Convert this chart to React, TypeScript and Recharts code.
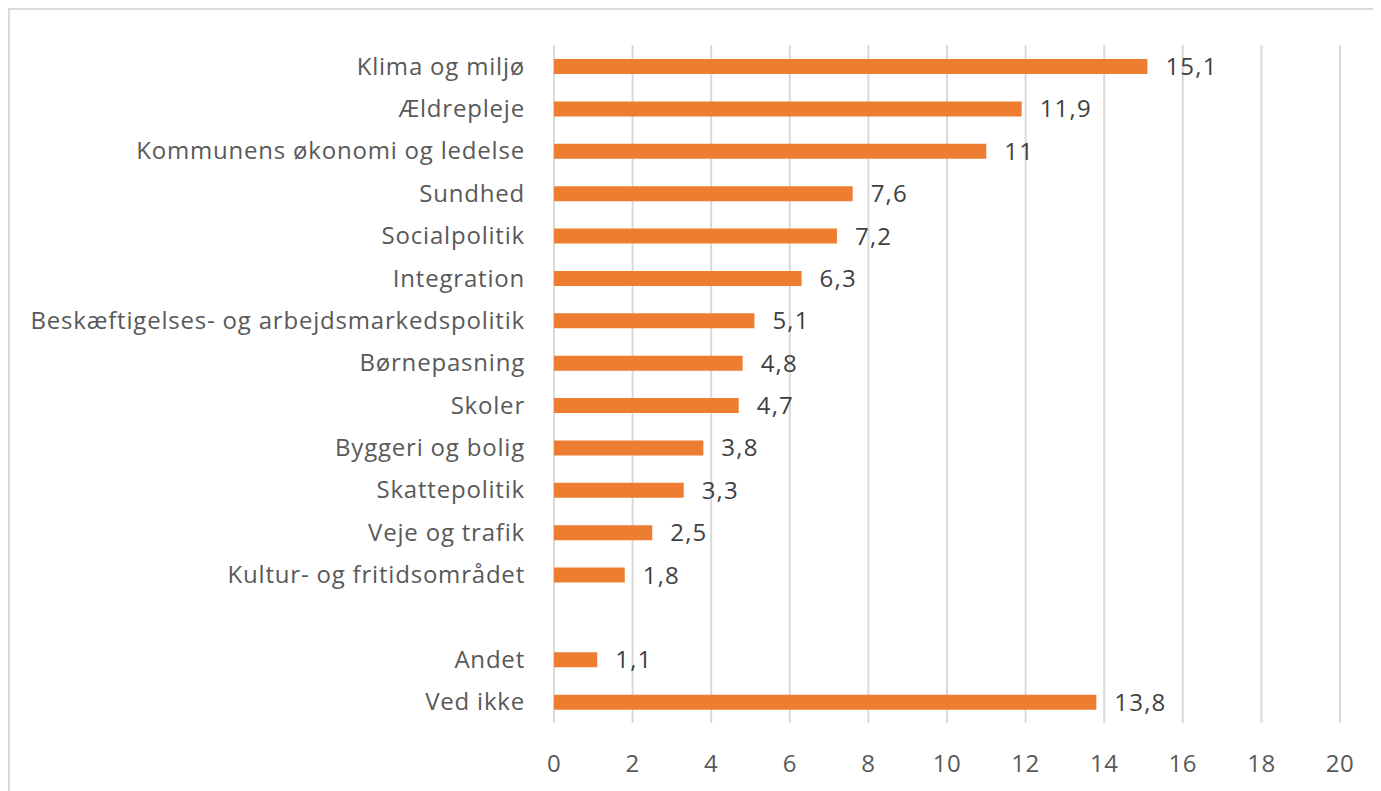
import { BarChart, Bar, XAxis, YAxis, CartesianGrid, LabelList } from 'recharts';

// Andel (%) pr. emne – tom række adskiller "Andet" og "Ved ikke"
const emner = [
  'Klima og miljø',
  'Ældrepleje',
  'Kommunens økonomi og ledelse',
  'Sundhed',
  'Socialpolitik',
  'Integration',
  'Beskæftigelses- og arbejdsmarkedspolitik',
  'Børnepasning',
  'Skoler',
  'Byggeri og bolig',
  'Skattepolitik',
  'Veje og trafik',
  'Kultur- og fritidsområdet',
  '',
  'Andet',
  'Ved ikke',
];
const andele: (number | null)[] = [15.1, 11.9, 11, 7.6, 7.2, 6.3, 5.1, 4.8, 4.7, 3.8, 3.3, 2.5, 1.8, null, 1.1, 13.8];
const xTicks = [0, 2, 4, 6, 8, 10, 12, 14, 16, 18, 20];

const data = emner.map((navn, i) => ({ navn, andel: andele[i] }));

const FONT = '"Open Sans", sans-serif';
const TEKST = '#595959';

const fmt = (v: unknown) => (v == null || v === '' ? '' : String(v).replace('.', ','));

export default function App() {
  return (
    <div style={{ width: 1371, height: 781, borderTop: '2px solid #d9d9d9', borderLeft: '2px solid #d9d9d9', background: '#fff' }}>
      <BarChart
        layout="vertical"
        width={1371}
        height={781}
        data={data}
        margin={{ top: 35, right: 41, bottom: 0, left: 0 }}
        barCategoryGap={0}
      >
        <CartesianGrid horizontal={false} stroke="#d9d9d9" strokeWidth={2} />
        <XAxis
          type="number"
          domain={[0, 20]}
          ticks={xTicks}
          axisLine={false}
          tickLine={false}
          height={68}
          tickMargin={26}
          tick={{ fontFamily: FONT, fontSize: 24, fill: TEKST, letterSpacing: 0.5 }}
        />
        <YAxis
          type="category"
          dataKey="navn"
          width={544}
          axisLine={false}
          tickLine={false}
          tickMargin={23}
          interval={0}
          tick={{ fontFamily: FONT, fontSize: 24, fill: TEKST, letterSpacing: 0.8 }}
        />
        <Bar dataKey="andel" fill="#ED7D31" barSize={15} isAnimationActive={false}>
          <LabelList
            dataKey="andel"
            position="right"
            offset={18}
            formatter={fmt}
            style={{ fontFamily: FONT, fontSize: 24, fill: '#404040', letterSpacing: 1.2 }}
          />
        </Bar>
      </BarChart>
    </div>
  );
}
